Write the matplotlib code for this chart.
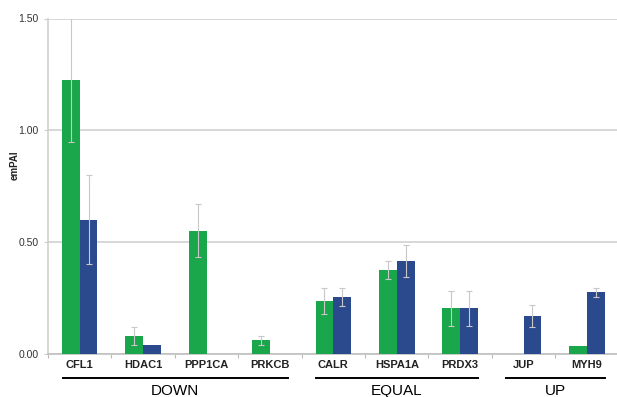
import matplotlib
matplotlib.use("Agg")
import matplotlib.pyplot as plt
import numpy as np

plt.rcParams['font.family'] = ['Liberation Sans', 'DejaVu Sans']

genes = ["CFL1", "HDAC1", "PPP1CA", "PRKCB", "CALR", "HSPA1A", "PRDX3", "JUP", "MYH9"]
green_vals = [1.225, 0.078, 0.55, 0.06, 0.235, 0.374, 0.202, 0.0, 0.034]
green_err = [0.28, 0.04, 0.12, 0.02, 0.06, 0.04, 0.08, 0.0, 0.0]
blue_vals = [0.60, 0.038, 0.0, 0.0, 0.252, 0.414, 0.202, 0.169, 0.274]
blue_err = [0.20, 0.0, 0.0, 0.0, 0.04, 0.07, 0.08, 0.05, 0.02]
groups = ["DOWN", "EQUAL", "UP"]
group_spans = [(0, 3), (4, 6), (7, 8)]
yticks = [0.0, 0.5, 1.0, 1.5]

GREEN = "#1aa64a"
BLUE = "#2b4a8e"
W, H = 617, 397

fig = plt.figure(figsize=(W / 100, H / 100), dpi=100)
left, right, top, bottom = 48, 618.7, 18.5, 353.5
ax = fig.add_axes([left / W, 1 - bottom / H, (right - left) / W, (bottom - top) / H])

x = np.arange(len(genes))
bw = 0.28
ekw = dict(ecolor="#c8c8c8", elinewidth=0.8, capsize=2.5, capthick=0.8)

g_err = [e if e > 0 else np.nan for e in green_err]
b_err = [e if e > 0 else np.nan for e in blue_err]
ax.bar(x - bw / 2, green_vals, bw, color=GREEN, yerr=g_err, error_kw=ekw, zorder=3)
ax.bar(x + bw / 2, blue_vals, bw, color=BLUE, yerr=b_err, error_kw=ekw, zorder=3)

ax.set_xlim(-0.5, len(genes) - 0.5)
ax.set_ylim(0, 1.5)
ax.set_yticks(yticks)
ax.set_yticklabels([f"{v:.2f}" for v in yticks], fontsize=7.5, color="#333333")
ax.yaxis.grid(True, color="#d4d4d4", linewidth=1.3, zorder=0)
ax.set_axisbelow(True)

ax.set_xticks(np.arange(len(genes) + 1) - 0.5)
ax.set_xticklabels([])
ax.tick_params(axis="x", length=3, color="#bbbbbb", direction="out")
ax.tick_params(axis="y", length=3, color="#cccccc", pad=4)

for s in ["top", "right"]:
    ax.spines[s].set_visible(False)
ax.spines["left"].set_color("#d0d0d0")
ax.spines["left"].set_linewidth(1.2)
ax.spines["bottom"].set_color("#c0c0c0")
ax.spines["bottom"].set_linewidth(1.2)

trans = ax.get_xaxis_transform()
for i, g in enumerate(genes):
    ax.text(i, -0.035, g, ha="center", va="center", fontsize=8, fontweight="bold",
            color="#222222", transform=trans, clip_on=False)

for name, (a, b) in zip(groups, group_spans):
    ax.plot([a - 0.27, b + 0.28], [-0.072, -0.072], color="black", lw=1.4,
            transform=trans, clip_on=False)
    ax.text((a + b) / 2, -0.113, name, ha="center", va="center", fontsize=11,
            transform=trans, clip_on=False)

fig.text(15 / W, 1 - 165 / H, "emPAI", rotation=90, ha="center", va="center",
         fontsize=7, fontweight="bold", color="#222222")

fig.savefig("out.png", dpi=100)
